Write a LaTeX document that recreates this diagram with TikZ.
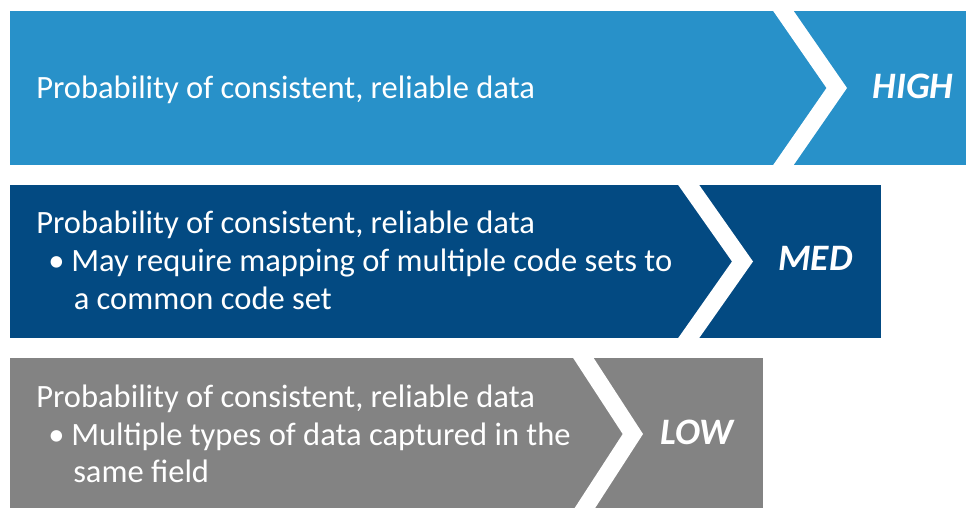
\documentclass[tikz,border=0pt]{standalone}
\usepackage{fontspec}
\setmainfont{Carlito}
\definecolor{bandhigh}{RGB}{40,145,201}
\definecolor{bandmed}{RGB}{3,74,130}
\definecolor{bandlow}{RGB}{131,131,131}
\begin{document}
\begin{tikzpicture}[x=0.75pt,y=-0.75pt,
  band/.style={fill=#1, draw=none},
  gap/.style={fill=white, draw=none},
  body/.style={text=white, inner sep=0pt, anchor=base west, font=\fontsize{24.4}{29}\selectfont},
  level/.style={text=white, inner sep=0pt, anchor=base, font=\fontsize{28}{33}\selectfont\bfseries\itshape}]
\useasboundingbox (0,0) rectangle (966,508);
% bands
\path[band=bandhigh] (10,11) rectangle (966,165);
\path[band=bandmed] (10,185) rectangle (881,338);
\path[band=bandlow] (10,358) rectangle (763,508);
% chevrons
\path[gap] (772.5,10) -- (793,10) -- (847,88) -- (793,166) -- (772.5,166) -- (826.5,88) -- cycle;
\path[gap] (677.5,184) -- (698.5,184) -- (753,261.5) -- (698.5,339) -- (677.5,339) -- (732,261.5) -- cycle;
\path[gap] (572.5,357) -- (593,357) -- (643,434) -- (594.5,509) -- (574,509) -- (622.7,434) -- cycle;
% texts
\node[body] (h1) at (36,98) {Probability of consistent, reliable data};
\node[level] (hl) at (913,98.5) {HIGH};
\node[body] (m1) at (36,233) {Probability of consistent, reliable data};
\node[body] (mb) at (48,271) {•};
\node[body] (m2) at (71,271) {May require mapping of multiple code sets to};
\node[body] (m3) at (73.5,309) {a common code set};
\node[level] (ml) at (815.5,270) {MED};
\node[body] (l1) at (36,407) {Probability of consistent, reliable data};
\node[body] (lb) at (48,445) {•};
\node[body] (l2) at (71,445) {Multiple types of data captured in the};
\node[body] (l3) at (73,482) {same field};
\node[level] (ll) at (697,444) {LOW};
\end{tikzpicture}
\end{document}
